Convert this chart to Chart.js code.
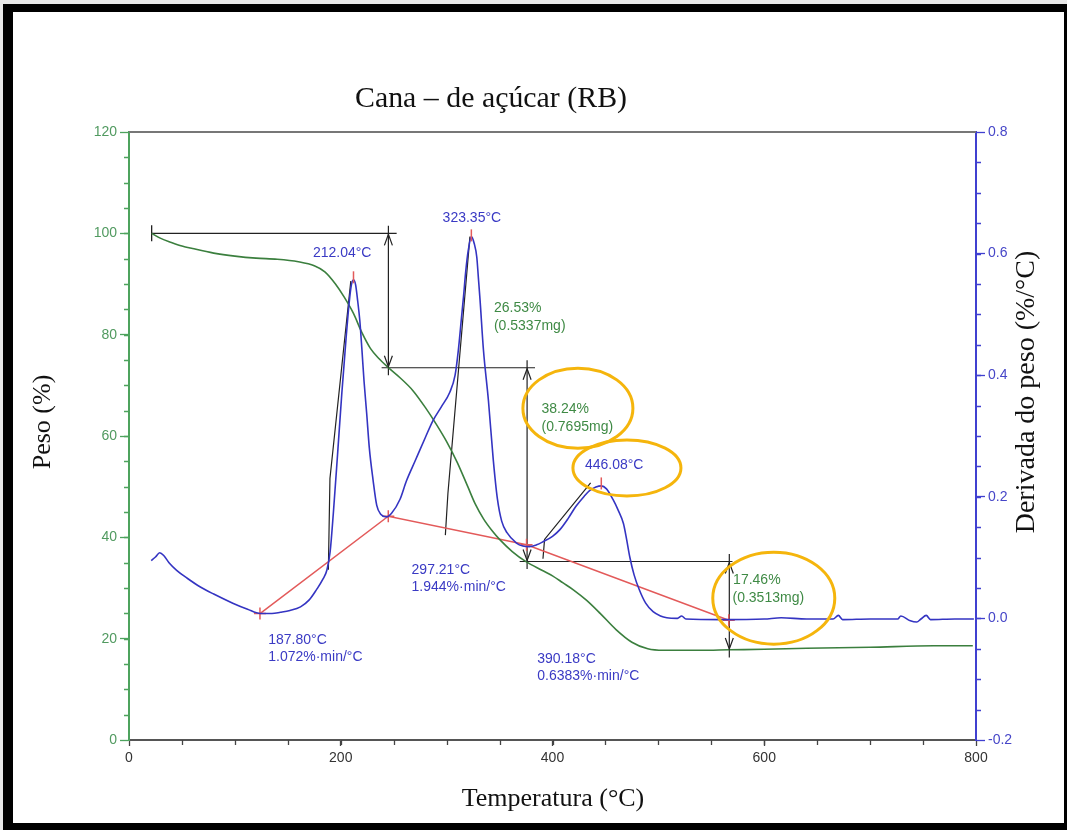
<!DOCTYPE html>
<html>
<head>
<meta charset="utf-8">
<script src="https://cdn.jsdelivr.net/npm/chart.js@4.4.0/dist/chart.umd.min.js"></script>
<style>
  html, body { margin: 0; padding: 0; background: #fff; }
  canvas { display: block; }
</style>
</head>
<body>
<canvas id="chartTga" width="1067" height="830"></canvas>
<script>
// TGA curve - Peso (%)
const tgaTemp = [21.4, 30, 40, 50, 60, 80, 100, 120, 140, 160, 175, 185, 195, 203, 212, 220, 228, 236, 245, 256,
  268, 280, 290, 300, 310, 320, 327, 335, 343, 350, 362, 375, 390, 400, 410, 420, 432, 445, 460, 475,
  490, 505, 540, 567, 600, 640, 700, 760, 797];
const tgaPeso = [100, 99.0, 98.2, 97.5, 97.0, 96.1, 95.5, 95.1, 94.9, 94.4, 93.6, 92.4, 90.0, 87.5, 84.2, 80.4, 77.3, 75.3, 73.5, 71.5,
  69.0, 65.6, 62.4, 58.9, 54.8, 50.0, 46.6, 43.6, 41.3, 39.6, 37.2, 35.2, 33.5, 32.4, 31.0, 29.6, 27.6, 25.0, 21.8, 19.3,
  18.0, 17.7, 17.7, 17.8, 17.9, 18.1, 18.3, 18.6, 18.6];

// DTG curve - Derivada do peso (%/°C)
const dtgTemp = [21, 25, 29, 33, 38, 45, 55, 67, 80, 98, 112, 124, 135, 143, 152, 162, 170, 177, 183, 187,
  190, 193, 197, 201, 205, 208, 210, 212, 214, 216, 218, 220, 222, 224.5, 227, 230.5, 234, 238, 243, 248,
  256, 262, 270, 280, 287, 295, 303, 308, 311, 314, 316, 318, 320.5, 323.4, 326, 328.5, 330, 331.6, 334.8, 339.5,
  344, 348, 352, 357, 366, 372, 378, 385, 391, 400, 407, 415, 422, 430, 435, 441, 446, 451, 457, 462,
  467, 470, 473, 477, 482, 488, 495, 502, 508, 518, 522, 526, 560, 600, 616, 640, 665, 670, 674, 700,
  726, 729, 738, 744, 748, 753, 757, 780, 798];
const dtgRate = [0.095, 0.101, 0.108, 0.103, 0.091, 0.079, 0.066, 0.052, 0.040, 0.025, 0.015, 0.008, 0.008, 0.010, 0.013, 0.019, 0.030, 0.047, 0.064, 0.080,
  0.110, 0.173, 0.270, 0.370, 0.460, 0.520, 0.548, 0.557, 0.549, 0.522, 0.490, 0.442, 0.390, 0.337, 0.280, 0.228, 0.186, 0.171, 0.167, 0.173,
  0.196, 0.226, 0.258, 0.298, 0.325, 0.348, 0.372, 0.400, 0.440, 0.494, 0.530, 0.570, 0.606, 0.628, 0.617, 0.594, 0.560, 0.523, 0.441, 0.358,
  0.262, 0.196, 0.160, 0.141, 0.124, 0.119, 0.118, 0.121, 0.126, 0.135, 0.146, 0.165, 0.184, 0.201, 0.210, 0.216, 0.218, 0.213, 0.196, 0.178,
  0.156, 0.130, 0.101, 0.072, 0.047, 0.025, 0.011, 0.004, 0.001, 0.000, 0.004, -0.001, -0.002, -0.001, 0.001, -0.001, -0.001, 0.005, -0.002, -0.001,
  -0.001, 0.004, -0.004, -0.006, -0.001, 0.005, -0.002, -0.001, -0.001];

// red baseline through the DTG minima
const baseTemp = [123.7, 244.9, 375.5, 566.5];
const baseRate = [0.008, 0.168, 0.121, -0.003];

// DTG peaks
const peakTemp = [212.04, 323.35, 446.08];
const peakRate = [0.561, 0.630, 0.222];

// onset tangents (black)
const tangentTemp = [[188.3, 189.8, 209.5], [298.8, 301.2, 322.0], [391.0, 392.5, 436.0]];
const tangentRate = [[0.080, 0.230, 0.555], [0.137, 0.205, 0.628], [0.098, 0.130, 0.223]];

// mass loss steps (black)
const stepLevel = [100, 73.47, 35.23, 17.77];
const stepTemp = [245, 376, 567];
const stepFrom = [21.4, 238.6, 369];
const stepTo = [252.8, 383.5, 570];

// tick labels
const xTicks = [0, 200, 400, 600, 800];
const pesoTicks = [0, 20, 40, 60, 80, 100, 120];
const rateTicks = [-0.2, 0, 0.2, 0.4, 0.6, 0.8];

const blueText = '#3a3ac4';
const greenText = '#3f8a45';

const notes = [
  { text: '212.04°C', t: 173.7, p: 96.1, color: blueText },
  { text: '323.35°C', t: 296.2, p: 102.9, color: blueText },
  { text: '26.53%', t: 344.7, p: 85.2, color: greenText },
  { text: '(0.5337mg)', t: 344.7, p: 81.6, color: greenText },
  { text: '38.24%', t: 389.6, p: 65.3, color: greenText },
  { text: '(0.7695mg)', t: 389.6, p: 61.8, color: greenText },
  { text: '446.08°C', t: 430.6, p: 54.3, color: blueText },
  { text: '187.80°C', t: 131.5, p: 19.7, color: blueText },
  { text: '1.072%·min/°C', t: 131.5, p: 16.4, color: blueText },
  { text: '297.21°C', t: 266.9, p: 33.6, color: blueText },
  { text: '1.944%·min/°C', t: 266.9, p: 30.1, color: blueText },
  { text: '390.18°C', t: 385.6, p: 16.0, color: blueText },
  { text: '0.6383%·min/°C', t: 385.6, p: 12.6, color: blueText },
  { text: '17.46%', t: 570.6, p: 31.6, color: greenText },
  { text: '(0.3513mg)', t: 570.0, p: 27.9, color: greenText }
];

const rings = [
  { t: 424, p: 65.5, rx: 55, ry: 40 },
  { t: 470.3, p: 53.7, rx: 54, ry: 28 },
  { t: 609, p: 28.0, rx: 61, ry: 46 }
];

const sans = '"Liberation Sans", Arial, sans-serif';
const serif = '"Liberation Serif", "Times New Roman", serif';

function pairs(xs, ys) {
  return xs.map((x, i) => ({ x: x, y: ys[i] }));
}

const tangentData = [];
tangentTemp.forEach((ts, k) => {
  ts.forEach((t, i) => tangentData.push({ x: t, y: tangentRate[k][i] }));
  tangentData.push({ x: ts[ts.length - 1], y: null });
});

const stepData = [];
stepFrom.forEach((t, i) => {
  stepData.push({ x: t, y: stepLevel[i] }, { x: stepTo[i], y: stepLevel[i] }, { x: stepTo[i], y: null });
});
stepTemp.forEach((t, i) => {
  stepData.push({ x: t, y: stepLevel[i] + 1.5 }, { x: t, y: stepLevel[i + 1] - 1.5 }, { x: t, y: null });
});

const decor = {
  id: 'decor',
  beforeDraw(chart) {
    const ctx = chart.ctx;
    ctx.save();
    ctx.fillStyle = '#e8e8e8';
    ctx.fillRect(0, 0, 1067, 830);
    ctx.fillStyle = '#000';
    ctx.fillRect(3, 4, 1064, 826);
    ctx.fillStyle = '#fff';
    ctx.fillRect(13, 12, 1051, 811);
    ctx.restore();
  },
  afterDatasetsDraw(chart) {
    const ctx = chart.ctx;
    const x = chart.scales.x, y = chart.scales.y;
    ctx.save();
    // arrow heads on the step lines
    ctx.strokeStyle = '#222';
    ctx.lineWidth = 1.2;
    stepTemp.forEach((t, i) => {
      const px = x.getPixelForValue(t);
      const top = y.getPixelForValue(stepLevel[i]);
      const bot = y.getPixelForValue(stepLevel[i + 1]);
      ctx.beginPath();
      ctx.moveTo(px - 4, top + 12); ctx.lineTo(px, top + 1); ctx.lineTo(px + 4, top + 12);
      ctx.moveTo(px - 4, bot - 12); ctx.lineTo(px, bot - 1); ctx.lineTo(px + 4, bot - 12);
      ctx.stroke();
    });
    // text notes
    ctx.font = '14px ' + sans;
    ctx.textAlign = 'left';
    ctx.textBaseline = 'middle';
    notes.forEach(n => {
      ctx.fillStyle = n.color;
      ctx.fillText(n.text, x.getPixelForValue(n.t), y.getPixelForValue(n.p));
    });
    // highlight rings
    ctx.strokeStyle = '#f5b50c';
    ctx.lineWidth = 3;
    rings.forEach(r => {
      ctx.beginPath();
      ctx.ellipse(x.getPixelForValue(r.t), y.getPixelForValue(r.p), r.rx, r.ry, 0, 0, Math.PI * 2);
      ctx.stroke();
    });
    ctx.restore();
  },
  afterDraw(chart) {
    const ctx = chart.ctx;
    const a = chart.chartArea;
    const x = chart.scales.x, y = chart.scales.y, y1 = chart.scales.y1;
    ctx.save();
    // top frame line
    ctx.strokeStyle = '#777';
    ctx.lineWidth = 2;
    ctx.beginPath();
    ctx.moveTo(a.left, a.top); ctx.lineTo(a.right, a.top);
    ctx.stroke();
    // minor ticks
    ctx.lineWidth = 1.3;
    ctx.strokeStyle = '#444';
    ctx.beginPath();
    for (let v = 50; v < 800; v += 50) {
      const px = Math.round(x.getPixelForValue(v)) + 0.5;
      ctx.moveTo(px, a.bottom); ctx.lineTo(px, a.bottom + 5);
    }
    ctx.stroke();
    ctx.strokeStyle = '#4ea35e';
    ctx.beginPath();
    for (let v = 5; v < 120; v += 5) {
      const py = Math.round(y.getPixelForValue(v)) + 0.5;
      ctx.moveTo(a.left - 5, py); ctx.lineTo(a.left, py);
    }
    ctx.stroke();
    ctx.strokeStyle = '#4040d0';
    ctx.beginPath();
    for (let k = -3; k < 16; k++) {
      const py = Math.round(y1.getPixelForValue(k * 0.05)) + 0.5;
      ctx.moveTo(a.right, py); ctx.lineTo(a.right + 5, py);
    }
    ctx.stroke();

    // titles
    ctx.fillStyle = '#111';
    ctx.textAlign = 'center';
    ctx.textBaseline = 'alphabetic';
    ctx.font = '30px ' + serif;
    ctx.fillText('Cana – de açúcar (RB)', 491, 107, 272);
    ctx.font = '26px ' + serif;
    ctx.fillText('Temperatura (°C)', 553, 806);

    ctx.save();
    ctx.translate(50, 422);
    ctx.rotate(-Math.PI / 2);
    ctx.font = '26px ' + serif;
    ctx.fillText('Peso (%)', 0, 0);
    ctx.restore();

    ctx.save();
    ctx.translate(1034, 392);
    ctx.rotate(-Math.PI / 2);
    ctx.font = '28px ' + serif;
    ctx.fillText('Derivada do peso (%/°C)', 0, 0);
    ctx.restore();
    ctx.restore();
  }
};

const ctx = document.getElementById('chartTga').getContext('2d');
const myChart = new Chart(ctx, {
  type: 'line',
  data: {
    datasets: [
      {
        label: 'DTG',
        data: pairs(dtgTemp, dtgRate),
        yAxisID: 'y1',
        borderColor: '#3434c2',
        borderWidth: 1.6,
        pointRadius: 0,
        cubicInterpolationMode: 'monotone',
        order: 1
      },
      {
        label: 'TGA',
        data: pairs(tgaTemp, tgaPeso),
        yAxisID: 'y',
        borderColor: '#3b7f3e',
        borderWidth: 1.6,
        pointRadius: 0,
        cubicInterpolationMode: 'monotone',
        order: 2
      },
      {
        label: 'Baseline',
        data: pairs(baseTemp, baseRate),
        yAxisID: 'y1',
        borderColor: '#e35a5a',
        borderWidth: 1.5,
        pointStyle: 'cross',
        pointRadius: 6,
        pointBorderWidth: 1.5,
        pointBorderColor: '#e35a5a',
        order: 3
      },
      {
        label: 'Peaks',
        data: pairs(peakTemp, peakRate),
        yAxisID: 'y1',
        showLine: false,
        pointStyle: 'line',
        rotation: 90,
        pointRadius: 6,
        pointBorderWidth: 1.5,
        pointBorderColor: '#e35a5a',
        order: 0
      },
      {
        label: 'Tangents',
        data: tangentData,
        yAxisID: 'y1',
        borderColor: '#222',
        borderWidth: 1.2,
        pointRadius: 0,
        spanGaps: false,
        order: 4
      },
      {
        label: 'Steps',
        data: stepData,
        yAxisID: 'y',
        borderColor: '#222',
        borderWidth: 1.2,
        pointRadius: 0,
        spanGaps: false,
        order: 5
      },
      {
        label: 'Step start',
        data: [{ x: stepFrom[0], y: stepLevel[0] }],
        yAxisID: 'y',
        showLine: false,
        pointStyle: 'line',
        rotation: 90,
        pointRadius: 8,
        pointBorderWidth: 1.3,
        pointBorderColor: '#222',
        order: 5
      }
    ]
  },
  options: {
    responsive: false,
    animation: false,
    devicePixelRatio: 1,
    layout: { padding: { top: 132, left: 0, right: 0, bottom: 0 } },
    plugins: {
      legend: { display: false },
      tooltip: { enabled: false },
      title: { display: false }
    },
    scales: {
      x: {
        type: 'linear',
        position: 'bottom',
        min: 0,
        max: 800,
        afterBuildTicks: s => { s.ticks = xTicks.map(v => ({ value: v })); },
        afterFit: s => { s.height = 90; },
        grid: { drawOnChartArea: false, drawTicks: true, tickLength: 6, tickColor: '#444', tickWidth: 1.3 },
        border: { color: '#555', width: 2 },
        ticks: { color: '#333', font: { family: sans, size: 14 }, padding: 4, maxRotation: 0, autoSkip: false }
      },
      y: {
        type: 'linear',
        position: 'left',
        min: 0,
        max: 120,
        afterBuildTicks: s => { s.ticks = pesoTicks.map(v => ({ value: v })); },
        afterFit: s => { s.width = 129; },
        grid: { drawOnChartArea: false, drawTicks: true, tickLength: 9, tickColor: '#4ea35e', tickWidth: 1.3 },
        border: { color: '#4ea35e', width: 2 },
        ticks: { color: '#519a60', font: { family: sans, size: 14 }, padding: 3, autoSkip: false }
      },
      y1: {
        type: 'linear',
        position: 'right',
        min: -0.2,
        max: 0.8,
        afterBuildTicks: s => { s.ticks = rateTicks.map(v => ({ value: v })); },
        afterFit: s => { s.width = 91; },
        grid: { drawOnChartArea: false, drawTicks: true, tickLength: 9, tickColor: '#4040d0', tickWidth: 1.3 },
        border: { color: '#4040d0', width: 2 },
        ticks: {
          color: '#4646c8',
          font: { family: sans, size: 14 },
          padding: 3,
          autoSkip: false,
          callback: v => (Math.abs(v) < 1e-9 ? 0 : v).toFixed(1)
        }
      }
    }
  },
  plugins: [decor]
});
</script>
</body>
</html>
